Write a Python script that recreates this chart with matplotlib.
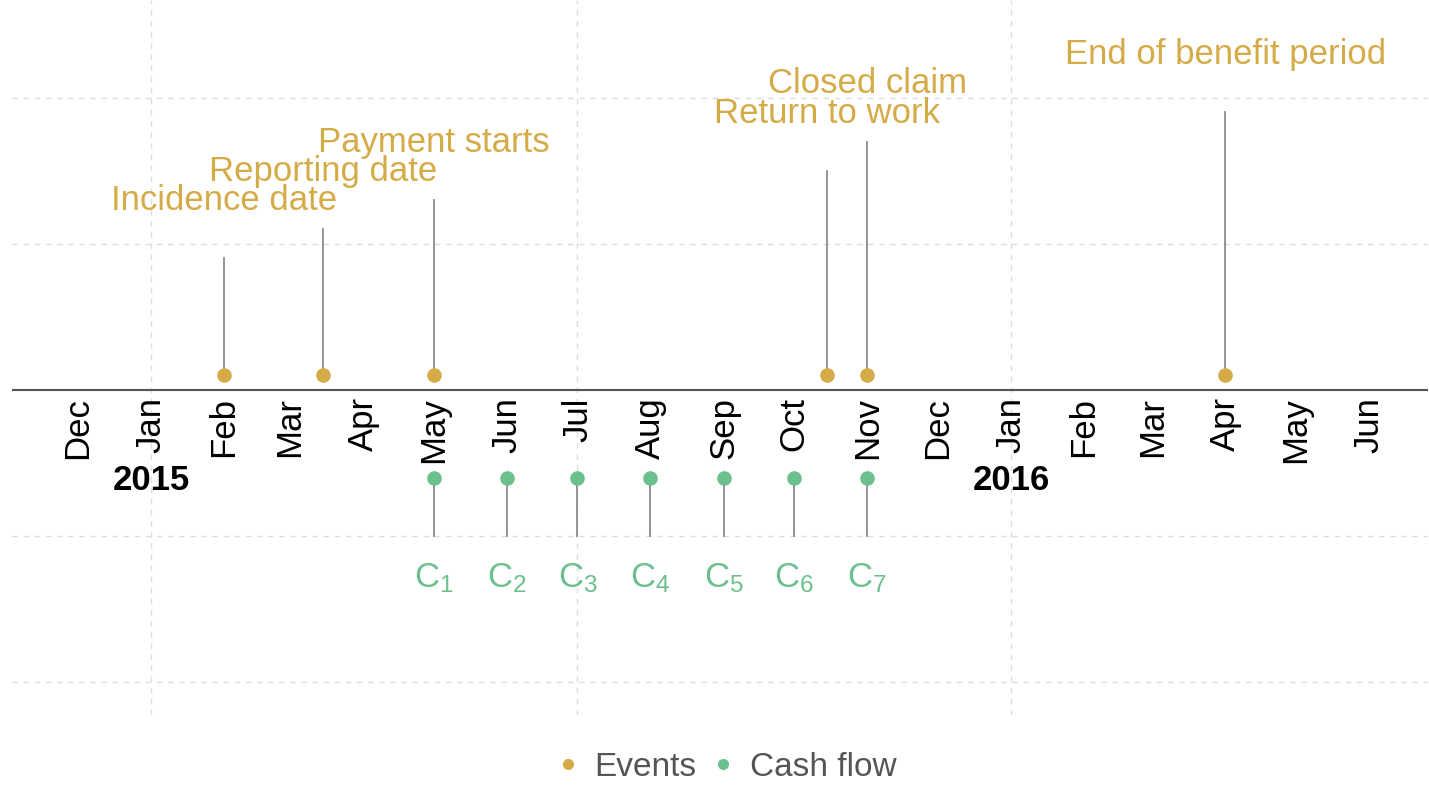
import datetime as dt
import matplotlib
matplotlib.use("Agg")
import matplotlib.pyplot as plt
import matplotlib.dates as mdates
from matplotlib.lines import Line2D

plt.rcParams['font.family'] = ['Liberation Sans', 'DejaVu Sans']
plt.rcParams['mathtext.default'] = 'regular'

# ---------------- data ----------------
event_labels = ["Incidence date", "Reporting date", "Payment starts",
                "Return to work", "Closed claim", "End of benefit period"]
event_dates = ["2015-02-01", "2015-03-15", "2015-05-01",
               "2015-10-15", "2015-11-01", "2016-04-01"]
event_heights = [0.9, 1.1, 1.3, 1.5, 1.7, 1.9]

cash_labels = [r"$C_1$", r"$C_2$", r"$C_3$", r"$C_4$", r"$C_5$", r"$C_6$", r"$C_7$"]
cash_dates = ["2015-05-01", "2015-06-01", "2015-07-01", "2015-08-01",
              "2015-09-01", "2015-10-01", "2015-11-01"]

month_labels = ["Dec", "Jan", "Feb", "Mar", "Apr", "May", "Jun", "Jul", "Aug",
                "Sep", "Oct", "Nov", "Dec", "Jan", "Feb", "Mar", "Apr", "May", "Jun"]
month_dates = ["2014-12-01", "2015-01-01", "2015-02-01", "2015-03-01", "2015-04-01",
               "2015-05-01", "2015-06-01", "2015-07-01", "2015-08-01", "2015-09-01",
               "2015-10-01", "2015-11-01", "2015-12-01", "2016-01-01", "2016-02-01",
               "2016-03-01", "2016-04-01", "2016-05-01", "2016-06-01"]
year_labels = ["2015", "2016"]
year_dates = ["2015-01-01", "2016-01-01"]
grid_dates = ["2015-01-01", "2015-07-01", "2016-01-01"]
grid_y = [-2, -1, 0, 1, 2]

x_range = ["2014-11-03", "2016-06-26"]

# ---------------- style ----------------
GOLD = "#D5AB48"
GREEN = "#6CC08D"
STEM = "#8C8C8C"
TXT = 25


def d(s):
    return mdates.date2num(dt.datetime.strptime(s, "%Y-%m-%d"))


fig = plt.figure(figsize=(14.29, 7.85), dpi=100)
ax = fig.add_axes([12 / 1429, 1 - 715 / 785, 1416 / 1429, 715 / 785])
ax.set_xlim(d(x_range[0]), d(x_range[1]))
ax.set_ylim(-2.226, 2.67)
for s in ax.spines.values():
    s.set_visible(False)
ax.set_xticks([])
ax.set_yticks([])

# grid
for g in grid_dates:
    ax.axvline(d(g), color="#DDDDDD", lw=1, ls=(0, (4, 4)), zorder=0)
for g in grid_y:
    ax.axhline(g, color="#DDDDDD", lw=1, ls=(0, (4, 4)), zorder=0)

# central axis line
ax.axhline(0, color="#555555", lw=1.5, zorder=1)

# events
for lab, ds, h in zip(event_labels, event_dates, event_heights):
    x = d(ds)
    ax.plot([x, x], [0.1, h], color=STEM, lw=1.3, zorder=2)
    ax.text(x, h + 0.33, lab, color=GOLD, fontsize=TXT, ha="center", va="baseline")
ax.plot([d(s) for s in event_dates], [0.1] * len(event_dates), 'o', color=GOLD,
        ms=10.5, mec="none", zorder=3)

# cash flows
for lab, ds in zip(cash_labels, cash_dates):
    x = d(ds)
    ax.plot([x, x], [-0.6, -1.0], color=STEM, lw=1.3, zorder=2)
    ax.text(x, -1.29, lab, color=GREEN, fontsize=TXT, ha="center", va="center")
ax.plot([d(s) for s in cash_dates], [-0.6] * len(cash_dates), 'o', color=GREEN,
        ms=10.5, mec="none", zorder=3)

# month labels
for lab, ds in zip(month_labels, month_dates):
    ax.text(d(ds), -0.05, lab, rotation=90, fontsize=TXT, color="black",
            ha="center", va="top")
for lab, ds in zip(year_labels, year_dates):
    ax.text(d(ds), -0.62, lab, fontsize=TXT, fontweight="bold", color="black",
            ha="center", va="center")

# legend
handles = [Line2D([], [], marker='o', ls='none', color=GOLD, ms=8, mec='none'),
           Line2D([], [], marker='o', ls='none', color=GREEN, ms=8, mec='none')]
leg = fig.legend(handles, ["Events", "Cash flow"], loc="center",
                 bbox_to_anchor=(0.5065, 1 - 767 / 785), ncol=2, frameon=False,
                 fontsize=24, handletextpad=0.3, columnspacing=0.3,
                 handlelength=1.0)
for t in leg.get_texts():
    t.set_color("#555555")

fig.savefig("out.png", dpi=100)
